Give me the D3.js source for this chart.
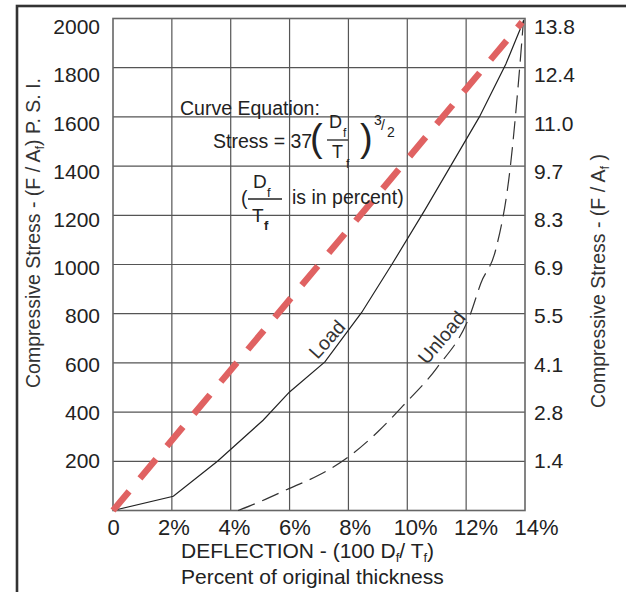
<!DOCTYPE html>
<html>
<head>
<meta charset="utf-8">
<script src="https://cdn.jsdelivr.net/npm/d3@7"></script>
<style>
  html, body { margin: 0; padding: 0; background: #fff; }
  svg { display: block; font-family: "Liberation Sans", Arial, Helvetica, sans-serif; }
  .tick text { fill: #222; }
</style>
</head>
<body>
<svg id="chart" width="626" height="592"></svg>
<script>
// Axis ticks and labels
const deflectionTicks = [0, 2, 4, 6, 8, 10, 12, 14]
const deflectionLabels = ["0", "2%", "4%", "6%", "8%", "10%", "12%", "14%"]
const psiTicks = [200, 400, 600, 800, 1000, 1200, 1400, 1600, 1800, 2000]
const mpaLabels = ["1.4", "2.8", "4.1", "5.5", "6.9", "8.3", "9.7", "11.0", "12.4", "13.8"]

// Load curve (solid)
const loadDeflection = [0, 2.05, 3.55, 5.1, 6.0, 7.2, 8.45, 9.5, 10.6, 12.45, 13.35, 13.95]
const loadStress = [0, 58, 200, 367, 482, 604, 805, 1005, 1222, 1600, 1815, 1990]

// Unload curve (thin dashed)
const unloadDeflection = [4.25, 5, 6, 7, 8, 9, 9.85, 11, 12.15, 12.5, 13, 13.5, 13.77, 13.95]
const unloadStress = [0, 36, 90, 144, 218, 320, 425, 579, 800, 924, 1058, 1396, 1730, 1995]

// Red reference line (thick dashed)
const refDeflection = [0, 13.9]
const refStress = [0, 1985]

const PLOT = { left: 113, right: 525, top: 18.5, bottom: 510.5 }

const svg = d3.select("#chart")

// grid scales and (slightly wider spaced) label scales
const x = d3.scaleLinear().domain([0, 14]).range([PLOT.left, PLOT.right])
const y = d3.scaleLinear().domain([0, 2000]).range([PLOT.bottom, PLOT.top])
const xLab = d3.scaleLinear().domain([0, 14]).range([113, 536])
const yLab = d3.scaleLinear().domain([0, 2000]).range([509, 27])

// outer frame
svg.append("rect")
  .attr("x", 17).attr("y", 6)
  .attr("width", 700).attr("height", 700)
  .attr("fill", "none").attr("stroke", "#333").attr("stroke-width", 2.6)

// grid
const grid = svg.append("g").attr("stroke", "#555").attr("stroke-width", 1.2)
grid.selectAll(".vx").data(deflectionTicks.slice(1, -1)).join("line")
  .attr("x1", d => x(d)).attr("x2", d => x(d))
  .attr("y1", PLOT.top).attr("y2", PLOT.bottom)
grid.selectAll(".hy").data(psiTicks.slice(0, -1)).join("line")
  .attr("x1", PLOT.left).attr("x2", PLOT.right)
  .attr("y1", d => y(d)).attr("y2", d => y(d))

svg.append("rect")
  .attr("x", PLOT.left).attr("y", PLOT.top)
  .attr("width", PLOT.right - PLOT.left).attr("height", PLOT.bottom - PLOT.top)
  .attr("fill", "none").attr("stroke", "#666").attr("stroke-width", 1.6)

// axes (labels only)
const leftAxis = svg.append("g")
  .attr("transform", "translate(103,0)")
  .call(d3.axisLeft(yLab).tickValues(psiTicks).tickSize(0).tickPadding(3)
    .tickFormat(d3.format("d")))
const rightAxis = svg.append("g")
  .attr("transform", `translate(${PLOT.right},0)`)
  .call(d3.axisRight(yLab).tickValues(psiTicks).tickSize(0).tickPadding(9)
    .tickFormat((d, i) => mpaLabels[i]))
const bottomAxis = svg.append("g")
  .attr("transform", `translate(0,${PLOT.bottom})`)
  .call(d3.axisBottom(xLab).tickValues(deflectionTicks).tickSize(0).tickPadding(9)
    .tickFormat((d, i) => deflectionLabels[i]))

;[leftAxis, rightAxis, bottomAxis].forEach(g => {
  g.select(".domain").remove()
  g.attr("font-family", null)
})
leftAxis.selectAll("text").attr("font-size", 21)
rightAxis.selectAll("text").attr("font-size", 21)
bottomAxis.selectAll("text").attr("font-size", 22)

// curves
const line = d3.line().x(d => x(d[0])).y(d => y(d[1]))

svg.append("path")
  .datum(d3.zip(unloadDeflection, unloadStress))
  .attr("d", line.curve(d3.curveMonotoneX))
  .attr("fill", "none").attr("stroke", "#333").attr("stroke-width", 1.2)
  .attr("stroke-dasharray", "18,8")

svg.append("path")
  .datum(d3.zip(loadDeflection, loadStress))
  .attr("d", line.curve(d3.curveLinear))
  .attr("fill", "none").attr("stroke", "#222").attr("stroke-width", 1.2)

svg.append("path")
  .datum(d3.zip(refDeflection, refStress))
  .attr("d", line)
  .attr("fill", "none").attr("stroke", "#e06262").attr("stroke-width", 6.5)
  .attr("stroke-dasharray", "25,17")

// curve labels
const curveLabel = (text, dx, psi, angle) =>
  svg.append("text")
    .attr("transform", `translate(${x(dx)},${y(psi)}) rotate(${angle})`)
    .attr("text-anchor", "middle").attr("dy", "0.35em")
    .attr("font-size", 19.5).attr("fill", "#333")
    .text(text)
curveLabel("Load", 7.27, 696, -48)
curveLabel("Unload", 11.17, 703, -50)

// equation block
const eq = svg.append("g").attr("fill", "#222")
const t = (str, px, py, size, extra) => {
  const el = eq.append("text").attr("x", px).attr("y", py).attr("font-size", size).text(str)
  if (extra) extra(el)
  return el
}
t("Curve Equation:", 180, 115, 19.5)
t("Stress = 37", 213, 148, 19.5)
t("(", 310, 151, 38)
t("D", 329, 128, 18)
t("f", 343, 137, 12)
eq.append("line").attr("x1", 327).attr("x2", 348).attr("y1", 140).attr("y2", 140)
  .attr("stroke", "#222").attr("stroke-width", 1.3)
t("T", 332, 158, 18)
t("f", 346, 168, 12)
t(")", 360, 151, 38)
t("3", 374, 125, 14)
t("/", 381, 130, 14)
t("2", 387, 137, 14)

t("(", 241, 205, 19.5)
t("D", 253, 188, 19)
t("f", 267, 197, 13)
eq.append("line").attr("x1", 248).attr("x2", 282).attr("y1", 199).attr("y2", 199)
  .attr("stroke", "#222").attr("stroke-width", 1.3)
t("T", 252, 222, 19)
t("f", 264, 230, 13, el => el.attr("font-weight", "bold"))
t("is in percent)", 292, 204, 19.5)

// axis titles
const title = svg.append("g").attr("fill", "#333")
const leftTitle = title.append("text")
  .attr("transform", "translate(40,233) rotate(-90)")
  .attr("text-anchor", "middle").attr("font-size", 19.5)
leftTitle.append("tspan").text("Compressive Stress - (F / A")
leftTitle.append("tspan").attr("font-size", 13).attr("dy", 4).text("f")
leftTitle.append("tspan").attr("dy", -4).text(") P. S. I.")

const rightTitle = title.append("text")
  .attr("transform", "translate(605,281) rotate(-90)")
  .attr("text-anchor", "middle").attr("font-size", 19.5)
rightTitle.append("tspan").text("Compressive Stress - (F / A")
rightTitle.append("tspan").attr("font-size", 13).attr("dy", 4).text("f")
rightTitle.append("tspan").attr("dy", -4).text(" )")

const xTitle = title.append("text").attr("x", 181).attr("y", 558).attr("font-size", 21)
  .attr("fill", "#222")
xTitle.append("tspan").text("DEFLECTION - (100 D")
xTitle.append("tspan").attr("font-size", 13).attr("dy", 4).text("f")
xTitle.append("tspan").attr("dy", -4).text("/ T")
xTitle.append("tspan").attr("font-size", 13).attr("dy", 4).text("f")
xTitle.append("tspan").attr("dy", -4).text(")")
title.append("text").attr("x", 181).attr("y", 584).attr("font-size", 21)
  .attr("fill", "#222").text("Percent of original thickness")
</script>
</body>
</html>
